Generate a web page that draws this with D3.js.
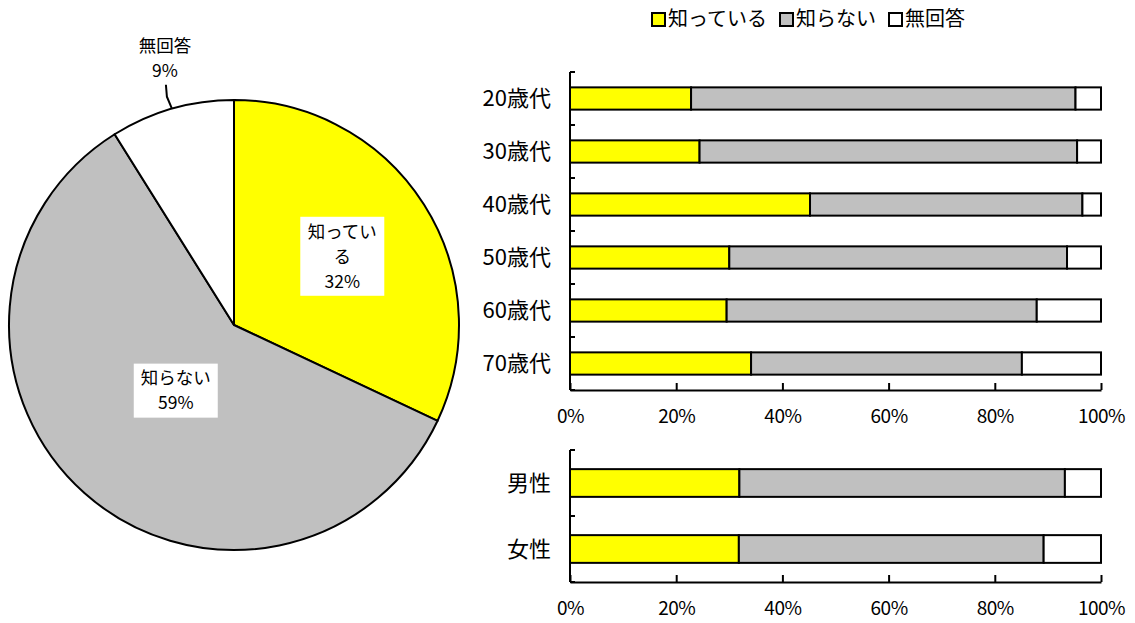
<!DOCTYPE html>
<html>
<head>
<meta charset="utf-8">
<script src="https://cdn.jsdelivr.net/npm/d3@7"></script>
<style>
  body { margin: 0; background: #fff; }
  svg text { font-family: "Noto Sans CJK JP", "Noto Sans", sans-serif; fill: #000; }
</style>
</head>
<body>
<svg width="1135" height="623"></svg>
<script>
// answer categories and colours
const answers = ["知っている", "知らない", "無回答"];
const colors = ["#ffff00", "#c0c0c0", "#ffffff"];

// overall (pie) shares, %
const totalValues = [32.0, 59.1, 8.9];

// by age group, % (知っている, 知らない, 無回答)
const ages = ["20歳代", "30歳代", "40歳代", "50歳代", "60歳代", "70歳代"];
const ageKnow = [22.8, 24.4, 45.2, 30.0, 29.5, 34.1];
const ageDont = [72.4, 71.1, 51.3, 63.6, 58.4, 51.0];
const ageNone = [4.8, 4.5, 3.5, 6.4, 12.1, 14.9];

// by sex, %
const sexes = ["男性", "女性"];
const sexKnow = [31.9, 31.8];
const sexDont = [61.3, 57.4];
const sexNone = [6.8, 10.8];

const xTicks = [0, 20, 40, 60, 80, 100];

const svg = d3.select("svg");

// ---------- pie ----------
const cx = 234, cy = 325, radius = 225;
const pieData = totalValues.map((v, i) => ({ name: answers[i], value: v, color: colors[i] }));
const pie = d3.pie().sort(null).value(d => d.value);
const arcs = pie(pieData);
const arc = d3.arc().innerRadius(0).outerRadius(radius);

const pieG = svg.append("g").attr("transform", "translate(" + cx + "," + cy + ")");
pieG.selectAll("path")
    .data(arcs)
    .enter()
    .append("path")
    .attr("d", arc)
    .attr("fill", d => d.data.color)
    .attr("stroke", "#000")
    .attr("stroke-width", 2)
    .attr("stroke-linejoin", "round");

const pct = v => Math.round(v) + "%";
// wrap long names every 4 chars (like the original)
const wrap = s => s.length > 4 ? [s.slice(0, 4), s.slice(4)] : [s];
const lineH = 25;

// inside labels: 知っている and 知らない
const labelRadius = [0.57, 0.39];
[0, 1].forEach(i => {
    const a = arcs[i];
    const mid = (a.startAngle + a.endAngle) / 2;
    const r = radius * labelRadius[i];
    const lx = Math.sin(mid) * r, ly = -Math.cos(mid) * r;
    const lines = wrap(a.data.name).concat([pct(a.data.value)]);
    const g = pieG.append("g").attr("transform", "translate(" + lx + "," + ly + ")");
    const h = lines.length * lineH + 4;
    g.append("rect")
        .attr("x", -42).attr("y", -h / 2)
        .attr("width", 84).attr("height", h)
        .attr("fill", "#fff");
    g.selectAll("text")
        .data(lines)
        .enter()
        .append("text")
        .attr("x", 0)
        .attr("y", (d, j) => -h / 2 + 2 + lineH * j + lineH / 2)
        .attr("dy", "0.36em")
        .attr("text-anchor", "middle")
        .attr("font-size", 17.5)
        .text(d => d);
});

// outside label: 無回答 with leader line
{
    const a = arcs[2];
    const mid = (a.startAngle + a.endAngle) / 2;
    const ex = Math.sin(mid) * radius, ey = -Math.cos(mid) * radius;
    pieG.append("polyline")
        .attr("points", [[ex, ey], [ex - 5, ey - 12], [ex - 6, ey - 24]].map(p => p.join(",")).join(" "))
        .attr("fill", "none")
        .attr("stroke", "#000")
        .attr("stroke-width", 2);
    const lines = [a.data.name, pct(a.data.value)];
    pieG.selectAll("text.out")
        .data(lines)
        .enter()
        .append("text")
        .attr("class", "out")
        .attr("x", ex - 7)
        .attr("y", (d, j) => ey - 63 + j * 25)
        .attr("dy", "0.36em")
        .attr("text-anchor", "middle")
        .attr("font-size", 17.5)
        .text(d => d);
}

// ---------- legend ----------
const legend = svg.append("g").attr("transform", "translate(651,19)");
let lx = 0;
answers.forEach((name, i) => {
    legend.append("rect")
        .attr("x", lx + 1).attr("y", -6)
        .attr("width", 13).attr("height", 13)
        .attr("fill", colors[i])
        .attr("stroke", "#000")
        .attr("stroke-width", 2);
    const t = legend.append("text")
        .attr("x", lx + 17)
        .attr("y", 0)
        .attr("dy", "0.36em")
        .attr("font-size", 20)
        .text(name);
    lx += 17 + t.node().getComputedTextLength() + 12;
});

// ---------- stacked bar charts ----------
const x = d3.scaleLinear().domain([0, 100]).range([570, 1101]);

function barChart(cats, know, dont, none, y0, y1) {
    const y = d3.scaleBand()
        .domain(cats)
        .range([y0, y1])
        .paddingInner(0.58)
        .paddingOuter(0.29);

    const rows = cats.map((c, i) => {
        const vals = [know[i], dont[i], none[i]];
        let acc = 0;
        return vals.map((v, k) => {
            const s = { cat: c, x0: acc, x1: acc + v, color: colors[k] };
            acc += v;
            return s;
        });
    }).flat();

    const g = svg.append("g");
    g.selectAll("rect")
        .data(rows)
        .enter()
        .append("rect")
        .attr("x", d => x(d.x0))
        .attr("y", d => y(d.cat))
        .attr("width", d => x(d.x1) - x(d.x0))
        .attr("height", y.bandwidth())
        .attr("fill", d => d.color)
        .attr("stroke", "#000")
        .attr("stroke-width", 2);

    // y axis line + boundary ticks
    g.append("line")
        .attr("x1", x(0)).attr("x2", x(0))
        .attr("y1", y0).attr("y2", y1)
        .attr("stroke", "#000").attr("stroke-width", 2);
    d3.range(cats.length + 1).forEach(i => {
        const ty = y0 + i * y.step();
        g.append("line")
            .attr("x1", x(0)).attr("x2", x(0) + 5)
            .attr("y1", ty).attr("y2", ty)
            .attr("stroke", "#000").attr("stroke-width", 2);
    });

    // category labels
    g.selectAll("text.cat")
        .data(cats)
        .enter()
        .append("text")
        .attr("class", "cat")
        .attr("x", 551)
        .attr("y", d => y(d) + y.bandwidth() / 2)
        .attr("dy", "0.36em")
        .attr("text-anchor", "end")
        .attr("font-size", 22)
        .text(d => d);

    // x axis
    const ax = g.append("g")
        .attr("transform", "translate(0," + y1 + ")")
        .call(d3.axisBottom(x)
            .tickValues(xTicks)
            .tickSizeInner(-7)
            .tickSizeOuter(0)
            .tickPadding(20)
            .tickFormat(d => d + "%"));
    ax.select(".domain").attr("stroke", "#000").attr("stroke-width", 2);
    ax.selectAll(".tick line").attr("stroke", "#000").attr("stroke-width", 2);
    ax.selectAll(".tick text")
        .attr("font-size", 19)
        .attr("letter-spacing", "-0.5px")
        .attr("font-family", "\"Noto Sans CJK JP\", sans-serif")
        .attr("fill", "#000");
}

barChart(ages, ageKnow, ageDont, ageNone, 72, 390);
barChart(sexes, sexKnow, sexDont, sexNone, 450, 582);
</script>
</body>
</html>
